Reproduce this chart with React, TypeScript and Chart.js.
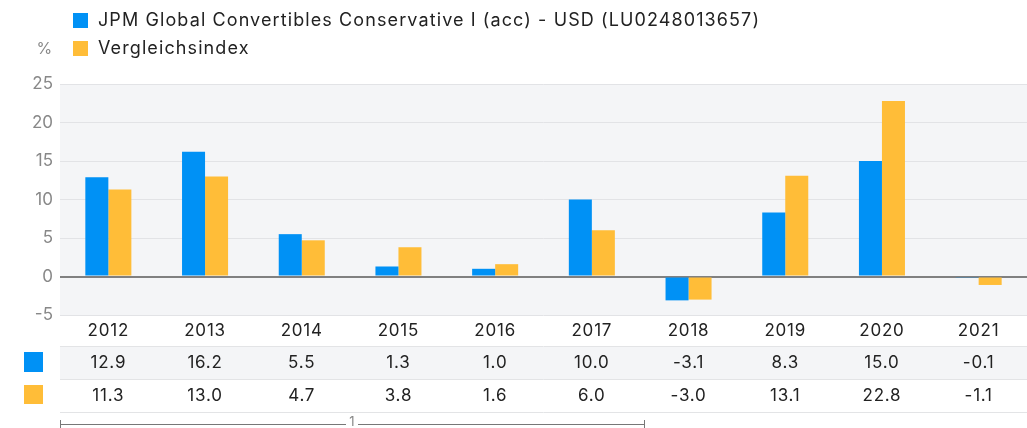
import React, { useEffect, useRef } from "react";
import { Chart, registerables } from "chart.js";

Chart.register(...registerables);

const categories = ["2012", "2013", "2014", "2015", "2016", "2017", "2018", "2019", "2020", "2021"];
const fundLabel = "JPM Global Convertibles Conservative I (acc) - USD (LU0248013657)";
const indexLabel = "Vergleichsindex";
const fundValues = [12.9, 16.2, 5.5, 1.3, 1.0, 10.0, -3.1, 8.3, 15.0, -0.1];
const indexValues = [11.3, 13.0, 4.7, 3.8, 1.6, 6.0, -3.0, 13.1, 22.8, -1.1];
const yTicks = [-5, 0, 5, 10, 15, 20, 25];

const BLUE = "#0091f5";
const YELLOW = "#ffbd38";
const FONT = "Inter, 'Noto Sans', sans-serif";

const extrasPlugin = {
  id: "extras",
  beforeDraw(chart: any) {
    const { ctx, chartArea } = chart;
    ctx.save();
    ctx.fillStyle = "#f4f5f7";
    ctx.fillRect(chartArea.left, chartArea.top, chartArea.right - chartArea.left, chartArea.bottom - chartArea.top);
    ctx.restore();
  },
  afterDraw(chart: any) {
    const { ctx, chartArea } = chart;
    const x = chart.scales.x;
    const L = chartArea.left;
    const R = chartArea.right;
    ctx.save();
    // legend
    const items = chart.data.datasets.map((d: any) => ({ label: d.label, color: d.backgroundColor }));
    ctx.font = `18px ${FONT}`;
    ctx.letterSpacing = "1.1px";
    ctx.textBaseline = "middle";
    ctx.textAlign = "left";
    items.forEach((it: any, i: number) => {
      const cy = 20 + i * 28;
      ctx.fillStyle = it.color;
      ctx.fillRect(73, cy - 7, 15, 15);
      ctx.fillStyle = "#222";
      ctx.fillText(it.label, 98, cy + 1);
    });
    // % label
    ctx.fillStyle = "#888";
    ctx.font = `16px ${FONT}`;
    ctx.textAlign = "center";
    ctx.fillText("%", 45, 49);

    // table
    const top = chartArea.bottom + 1;
    ctx.fillStyle = "#f4f5f7";
    ctx.fillRect(L, top + 31, R - L, 33);
    ctx.strokeStyle = "#e3e4e6";
    ctx.lineWidth = 1;
    [top + 30.5, top + 63.5, top + 96.5].forEach((yy) => {
      ctx.beginPath();
      ctx.moveTo(L, yy);
      ctx.lineTo(R, yy);
      ctx.stroke();
    });
    ctx.font = `17px ${FONT}`;
    ctx.letterSpacing = "0.8px";
    ctx.fillStyle = "#222";
    ctx.textAlign = "center";
    categories.forEach((c, i) => {
      const px = x.getPixelForValue(i);
      ctx.fillText(c, px, top + 15);
      ctx.fillText(fundValues[i].toFixed(1), px, top + 47);
      ctx.fillText(indexValues[i].toFixed(1), px, top + 80);
    });
    ctx.letterSpacing = "0px";
    ctx.fillStyle = BLUE;
    ctx.fillRect(24, top + 36, 19, 20);
    ctx.fillStyle = YELLOW;
    ctx.fillRect(24, top + 69, 19, 19);

    // bottom range line
    ctx.strokeStyle = "#777";
    ctx.lineWidth = 1;
    const ly = 424.5;
    ctx.beginPath();
    ctx.moveTo(60.5, 420);
    ctx.lineTo(60.5, 428);
    ctx.moveTo(60.5, ly);
    ctx.lineTo(346, ly);
    ctx.moveTo(358, ly);
    ctx.lineTo(644.5, ly);
    ctx.moveTo(644.5, 420);
    ctx.lineTo(644.5, 428);
    ctx.stroke();
    ctx.fillStyle = "#888";
    ctx.font = `13px ${FONT}`;
    ctx.fillText("1", 352, 422);
    ctx.restore();
  },
};

export default function App() {
  const ref = useRef<HTMLCanvasElement>(null);
  useEffect(() => {
    if (!ref.current) return;
    const chart = new Chart(ref.current, {
      type: "bar",
      data: {
        labels: categories,
        datasets: [
          { label: fundLabel, data: fundValues, backgroundColor: BLUE, categoryPercentage: 0.476, barPercentage: 1 },
          { label: indexLabel, data: indexValues, backgroundColor: YELLOW, categoryPercentage: 0.476, barPercentage: 1 },
        ],
      },
      options: {
        animation: false,
        responsive: false,
        devicePixelRatio: 1,
        layout: { padding: { top: 84, bottom: 113, left: 0, right: 0 } },
        plugins: { legend: { display: false }, tooltip: { enabled: false }, title: { display: false } },
        scales: {
          x: { display: false },
          y: {
            min: -5,
            max: 25,
            afterFit: (s: any) => {
              s.width = 60;
            },
            afterBuildTicks: (s: any) => {
              s.ticks = yTicks.map((v) => ({ value: v }));
            },
            border: { display: false },
            grid: {
              drawTicks: false,
              color: (c: any) => (c.tick && c.tick.value === 0 ? "#808080" : "#e2e3e6"),
              lineWidth: (c: any) => (c.tick && c.tick.value === 0 ? 2 : 1),
            },
            ticks: {
              color: "#888",
              font: { size: 17, family: FONT },
              padding: 7,
            },
          },
        },
      },
      plugins: [extrasPlugin],
    });
    return () => chart.destroy();
  }, []);
  return (
    <div style={{ position: "absolute", left: 0, top: 0, width: 1027, height: 428, background: "#fff" }}>
      <canvas ref={ref} width={1027} height={428} style={{ width: 1027, height: 428 }} />
    </div>
  );
}
